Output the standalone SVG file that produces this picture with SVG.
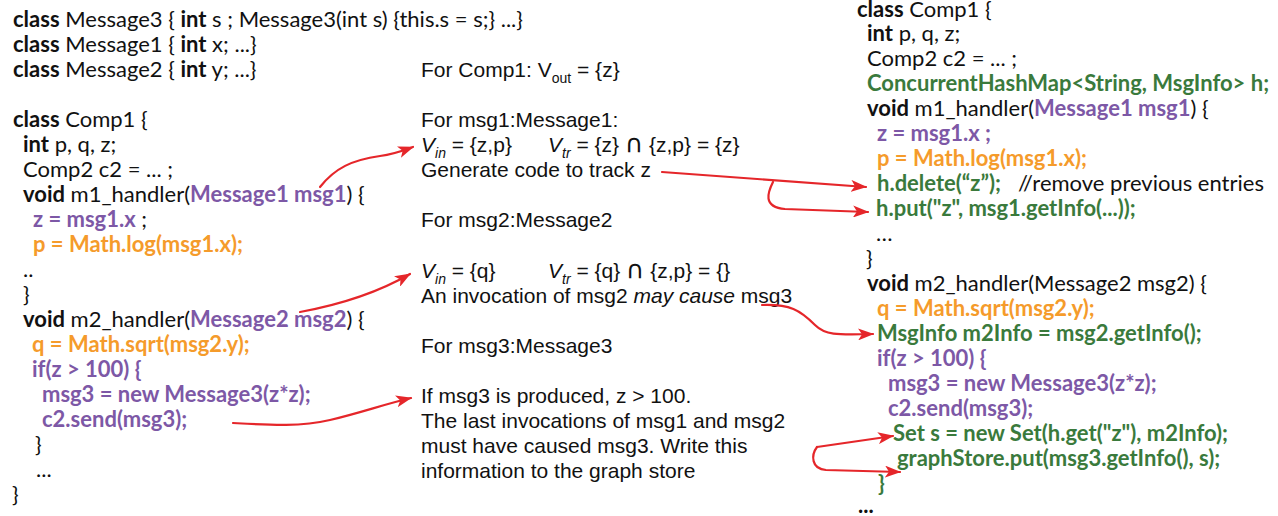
<svg xmlns="http://www.w3.org/2000/svg" width="1278" height="516" viewBox="0 0 1278 516">
<style>
.code{font-family:Lato,"Open Sans","Liberation Sans",sans-serif;font-size:22px;fill:#111}
.note{font-family:"Liberation Sans",Arial,"DejaVu Sans",sans-serif;font-size:21px;fill:#111}
.b{font-weight:bold}
.pu{fill:#7d58a6;font-weight:bold}
.or{fill:#f59b2b;font-weight:bold}
.gr{fill:#3a7a3c;font-weight:bold}
.sub{font-size:14px}
.it{font-style:italic}
.cap{font-family:"DejaVu Sans",sans-serif;font-size:25px}
.arr{fill:none;stroke:#e5262a;stroke-width:2.2;stroke-linecap:round;marker-end:url(#ah)}
</style>
<defs>
<marker id="ah" markerUnits="userSpaceOnUse" markerWidth="16" markerHeight="12" viewBox="0 0 16 12" refX="15" refY="6" orient="auto">
<path d="M0,0 L16,6 L0,12 L4,6 z" fill="#e5262a"/>
</marker>
</defs>
<rect width="1278" height="516" fill="#fff"/>

<g id="left-code" class="code">
<text x="13" y="26.5"><tspan class="b">class</tspan> Message3 { <tspan class="b">int</tspan> s ; Message3(int s) {this.s = s;} ...}</text>
<text x="13" y="51.5"><tspan class="b">class</tspan> Message1 { <tspan class="b">int</tspan> x; ...}</text>
<text x="13" y="76.5"><tspan class="b">class</tspan> Message2 { <tspan class="b">int</tspan> y; ...}</text>
<text x="13" y="126.5"><tspan class="b">class</tspan> Comp1 {</text>
<text x="23" y="151.5"><tspan class="b">int</tspan> p, q, z;</text>
<text x="23" y="176.5">Comp2 c2 = ... ;</text>
<text x="23" y="201.5"><tspan class="b">void</tspan> m1_handler(<tspan class="pu">Message1 msg1</tspan>) {</text>
<text x="33" y="226.5"><tspan class="pu">z = msg1.x</tspan> ;</text>
<text x="33" y="251.5" class="or">p = Math.log(msg1.x);</text>
<text x="23" y="276.5">..</text>
<text x="23" y="301.5">}</text>
<text x="23" y="326.5"><tspan class="b">void</tspan> m2_handler(<tspan class="pu">Message2 msg2</tspan>) {</text>
<text x="32" y="351.5" class="or">q = Math.sqrt(msg2.y);</text>
<text x="32" y="376.5" class="pu">if(z &gt; 100) {</text>
<text x="42" y="401.5" class="pu">msg3 = new Message3(z*z);</text>
<text x="42" y="426.5" class="pu">c2.send(msg3);</text>
<text x="35" y="451.5">}</text>
<text x="36" y="476.5">...</text>
<text x="12" y="501.5">}</text>
</g>

<g id="middle-notes" class="note">
<text x="421" y="77">For Comp1: V<tspan class="sub" dy="6">out</tspan><tspan dy="-6"> = {z}</tspan></text>
<text x="421" y="127">For msg1:Message1:</text>
<text x="421" y="152"><tspan class="it">V</tspan><tspan class="sub it" dy="6">in</tspan><tspan dy="-6"> = {z,p}</tspan></text>
<text x="548" y="152"><tspan class="it">V</tspan><tspan class="sub it" dy="6">tr</tspan><tspan dy="-6"> = {z} </tspan><tspan class="cap">∩</tspan> {z,p} = {z}</text>
<text x="421" y="177">Generate code to track z</text>
<text x="421" y="227">For msg2:Message2</text>
<text x="421" y="277.5"><tspan class="it">V</tspan><tspan class="sub it" dy="6">in</tspan><tspan dy="-6"> = {q}</tspan></text>
<text x="548" y="277.5"><tspan class="it">V</tspan><tspan class="sub it" dy="6">tr</tspan><tspan dy="-6"> = {q} </tspan><tspan class="cap">∩</tspan> {z,p} = {}</text>
<text x="421" y="302.5">An invocation of msg2 <tspan class="it">may cause</tspan> msg3</text>
<text x="421" y="352.5">For msg3:Message3</text>
<text x="421" y="403">If msg3 is produced, z &gt; 100.</text>
<text x="421" y="428">The last invocations of msg1 and msg2</text>
<text x="421" y="453">must have caused msg3. Write this</text>
<text x="421" y="478">information to the graph store</text>
</g>

<g id="right-code" class="code">
<text x="857" y="17"><tspan class="b">class</tspan> Comp1 {</text>
<text x="867" y="40.5"><tspan class="b">int</tspan> p, q, z;</text>
<text x="867" y="65.5">Comp2 c2 = ... ;</text>
<text x="867" y="90.5" class="gr">ConcurrentHashMap&lt;String, MsgInfo&gt; h;</text>
<text x="867" y="115.5"><tspan class="b">void</tspan> m1_handler(<tspan class="pu">Message1 msg1</tspan>) {</text>
<text x="877" y="140.5" class="pu">z = msg1.x ;</text>
<text x="877" y="165.5" class="or">p = Math.log(msg1.x);</text>
<text x="877" y="190.5"><tspan class="gr">h.delete(“z”);</tspan><tspan x="1018">//remove previous entries</tspan></text>
<text x="876" y="215.5" class="gr">h.put("z", msg1.getInfo(...));</text>
<text x="876" y="240.5">…</text>
<text x="866" y="265.5">}</text>
<text x="867" y="290.5"><tspan class="b">void</tspan> m2_handler(Message2 msg2) {</text>
<text x="877" y="315.5" class="or">q = Math.sqrt(msg2.y);</text>
<text x="877" y="340.5" class="gr">MsgInfo m2Info = msg2.getInfo();</text>
<text x="877" y="365.5" class="pu">if(z &gt; 100) {</text>
<text x="888" y="390.5" class="pu">msg3 = new Message3(z*z);</text>
<text x="888" y="415.5" class="pu">c2.send(msg3);</text>
<text x="893" y="440.5" class="gr">Set s = new Set(h.get("z"), m2Info);</text>
<text x="897" y="465.5" class="gr">graphStore.put(msg3.getInfo(), s);</text>
<text x="878" y="490.5" class="gr">}</text>
<text x="858" y="513" class="b">...</text>
</g>

<g id="connectors">
<path class="arr" d="M320,187 C335,168 352,160 380,156 C395,154 402,151 413,147"/>
<path class="arr" d="M300,312 Q365,300 410,274"/>
<path class="arr" d="M233,423 C270,425 300,427 330,420 C360,413 385,404 411,398"/>
<path class="arr" d="M662,172 L866,187"/>
<path class="arr" d="M773,182 C768,192 762,207 785,209 L868,212"/>
<path class="arr" d="M762,305 C790,304 800,310 815,325 C825,335 835,335 873,334"/>
<path class="arr" d="M817,447 L893,436"/>
<path class="arr" d="M817,447 C811,455 811,469 826,470 L900,472"/>
</g>
</svg>
